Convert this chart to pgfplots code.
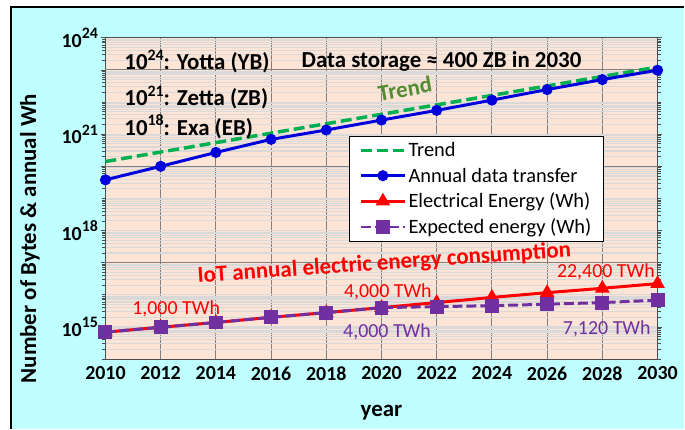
\documentclass[border=0pt]{standalone}
\usepackage{fontspec}
\setmainfont{Carlito}
\usepackage{pgfplots}
\pgfplotsset{compat=1.18}
\definecolor{cyanbg}{RGB}{191,255,255}
\definecolor{peach}{RGB}{252,228,214}
\definecolor{mgray}{RGB}{217,217,217}
\definecolor{ggray}{RGB}{128,128,128}
\definecolor{tgreen}{RGB}{0,176,80}
\definecolor{tlab}{RGB}{84,140,50}
\definecolor{dblue}{RGB}{0,0,220}
\definecolor{dpurple}{RGB}{112,48,160}
\newcommand{\sups}[1]{\raisebox{0.42em}{\fontsize{16bp}{16bp}\selectfont #1}}
\def\minorlist{}
\foreach \k in {14,...,23}{\foreach \n in {1,...,9}{\xdef\minorlist{\minorlist\ifx\minorlist\empty\else,\fi \n e\k}}}
\begin{document}
\begin{tikzpicture}
\fill[white] (-106bp,-67bp) rectangle (579bp,361bp);
\fill[cyanbg] (-95bp,-70bp) rectangle (582bp,354bp);
\draw[black,line width=1.2bp] (-95bp,-70bp) -- (-95bp,354bp) -- (582bp,354bp);
\useasboundingbox (-106bp,-67bp) rectangle (579bp,361bp);
\begin{axis}[
  scale only axis, width=555bp, height=323bp,
  xmin=2010, xmax=2030, ymin=1e14, ymax=1e24, ymode=log,
  clip=false,
  /pgf/number format/assume math mode=true,
  axis background/.style={fill=peach},
  axis line style={draw=black!70, line width=1bp},
  xtick={2010,2012,...,2030},
  xticklabels={2010,2012,2014,2016,2018,2020,2022,2024,2026,2028,2030},
  xticklabel style={font=\fontsize{20bp}{22bp}\selectfont\bfseries, yshift=-4bp},
  xtick style={draw=none},
  xmajorgrids, 
  ytick={1e15,1e18,1e21,1e24},
  yticklabels={\textbf{10\sups{15}},\textbf{10\sups{18}},\textbf{10\sups{21}},\textbf{10\sups{24}}},
  yticklabel style={font=\fontsize{20bp}{22bp}\selectfont\bfseries},
  ytick align=outside, 
  major tick length=4bp, minor tick length=3bp,
  ytick style={draw=black!70, line width=0.8bp},
  minor ytick/.expand once={\minorlist},
  yminorgrids, ymajorgrids=false,
  minor grid style={draw=mgray, line width=1.1bp},
  major grid style={draw=ggray, line width=1.1bp},
  extra y ticks={1e17,1e20,1e23},
  extra y tick labels={},
  extra y tick style={grid=major, major grid style={draw=ggray, line width=1.1bp}, tick style={draw=black!70}},
  xlabel={\textbf{year}},
  ylabel={\textbf{Number of Bytes \& annual Wh}},
  xlabel style={font=\fontsize{23bp}{25bp}\selectfont, at={(axis description cs:0.5,-0.167)}, anchor=center},
  ylabel style={font=\fontsize{23bp}{25bp}\selectfont, at={(axis description cs:-0.137,0.375)}, anchor=center},
  legend style={at={(0.441,0.693)}, anchor=north west, draw=black, line width=0.8bp, fill=white,
    font=\fontsize{20.5bp}{22bp}\selectfont, cells={anchor=west}, row sep=5.5bp, inner xsep=10bp, inner ysep=4bp},
  legend image code/.code={\draw[mark repeat=2,mark phase=2,#1] plot coordinates {(0bp,0bp) (22bp,0bp) (44bp,0bp)};},
]
\addplot[tgreen, line width=3.5bp, dash pattern=on 11bp off 5bp] coordinates {(2010,1.41e20) (2030,1.23e23)};
\addlegendentry{Trend}
\addplot[dblue, line width=3bp, mark=*, mark size=4bp] coordinates {
(2010,3.8e19) (2012,1.0e20) (2014,2.7e20) (2016,6.9e20) (2018,1.35e21) (2020,2.75e21)
(2022,5.5e21) (2024,1.15e22) (2026,2.45e22) (2028,5.0e22) (2030,9.8e22)};
\addlegendentry{Annual data transfer}
\addplot[red, line width=3bp, mark=triangle*, mark size=5.5bp] coordinates {
(2010,6.9e14) (2012,9.8e14) (2014,1.38e15) (2016,2.0e15) (2018,2.8e15) (2020,4.0e15)
(2022,5.75e15) (2024,8.3e15) (2026,1.17e16) (2028,1.6e16) (2030,2.24e16)};
\addlegendentry{Electrical Energy (Wh)}
\addplot[dpurple, line width=3bp, dash pattern=on 10bp off 4bp, mark=square*, mark size=5.5bp, mark options={solid}] coordinates {
(2010,6.9e14) (2012,9.8e14) (2014,1.38e15) (2016,2.0e15) (2018,2.8e15) (2020,4.0e15)
(2022,4.3e15) (2024,4.6e15) (2026,5.1e15) (2028,5.75e15) (2030,6.8e15)};
\addlegendentry{Expected energy (Wh)}
\begin{scope}[every node/.style={font=\fontsize{23bp}{25bp}\selectfont\bfseries, inner sep=0pt}]
\node[anchor=west] at (axis cs:2010.68,1.82e23) {10\sups{24}: Yotta (YB)};
\node[anchor=west] at (axis cs:2010.68,1.38e22) {10\sups{21}: Zetta (ZB)};
\node[anchor=west] at (axis cs:2010.68,1.74e21) {10\sups{18}: Exa (EB)};
\node[anchor=west] at (axis cs:2017.1,1.82e23) {Data storage ≈ 400 ZB in 2030};
\node[tlab, rotate=10] at (axis cs:2020.85,2.6e22) {Trend};
\node[red, rotate=4] at (axis cs:2020.1,9.3e16) {IoT annual electric energy consumption};
\end{scope}
\begin{scope}[every node/.style={font=\fontsize{20bp}{22bp}\selectfont, inner sep=0pt}]
\node[red] at (axis cs:2012.56,3.55e15) {1,000 TWh};
\node[red] at (axis cs:2020.23,1.27e16) {4,000 TWh};
\node[dpurple] at (axis cs:2020.2,6.9e14) {4,000 TWh};
\node[red] at (axis cs:2028.13,5.25e16) {22,400 TWh};
\node[dpurple] at (axis cs:2028.16,8.5e14) {7,120 TWh};
\end{scope}
\end{axis}
\end{tikzpicture}
\end{document}
